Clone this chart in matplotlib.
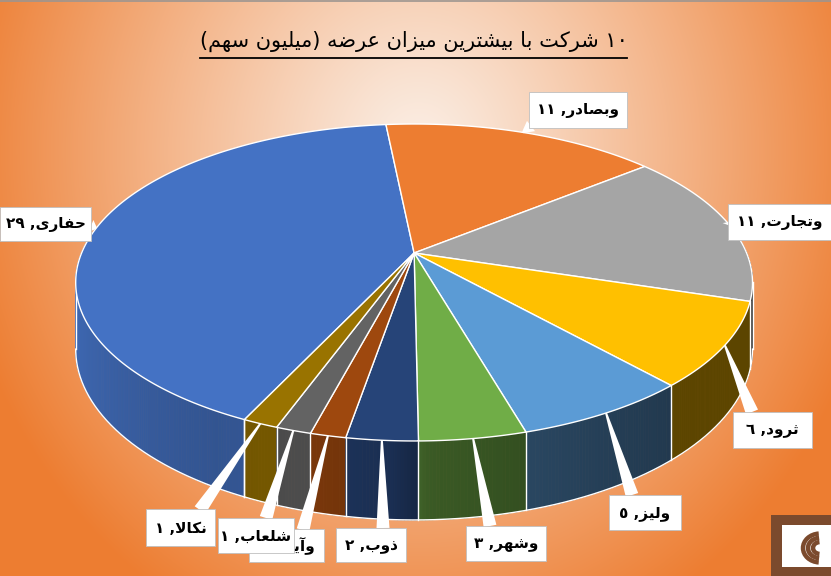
import re
import numpy as np
import matplotlib
matplotlib.use('Agg')
import matplotlib.pyplot as plt
from matplotlib.patches import Polygon, Rectangle, Arc
from matplotlib.collections import PolyCollection
from matplotlib.colors import to_rgb

# ---------------- data ----------------
companies = ['حفاری', 'وبصادر', 'وتجارت', 'ثرود', 'ولیز', 'وشهر', 'ذوب', 'وآیند', 'شلعاب', 'نکالا']
values = [29, 11, 11, 6, 5, 3, 2, 1, 1, 1]
colors = ['#4472C4', '#ED7D31', '#A5A5A5', '#FFC000', '#5B9BD5',
          '#70AD47', '#264478', '#9E480E', '#636363', '#997300']
title = '١٠ شرکت با بیشترین میزان عرضه (میلیون سهم)'

# label box layout (x0, y0, x1, y1) and pointer base point, in pixels
box_pos = [(0, 207, 91, 241), (529, 92, 627, 128), (728, 204, 831, 240),
           (733, 412, 812, 448), (609, 495, 681, 530), (466, 526, 546, 561),
           (336, 528, 406, 562), (249, 529, 324, 562), (218, 518, 294, 553),
           (146, 509, 215, 546)]
ptr_base = [(91, 226), (531, 126), (729, 222), (752, 412), (632, 495), (490, 526),
            (383, 528), (303, 530), (266, 518), (200, 510)]

# ---------------- Arabic shaping (presentation forms) ----------------
FORMS = {
    'ا': (0xFE8D, 0xFE8E, None, None), 'آ': (0xFE81, 0xFE82, None, None),
    'ب': (0xFE8F, 0xFE90, 0xFE91, 0xFE92), 'ت': (0xFE95, 0xFE96, 0xFE97, 0xFE98),
    'ث': (0xFE99, 0xFE9A, 0xFE9B, 0xFE9C), 'ج': (0xFE9D, 0xFE9E, 0xFE9F, 0xFEA0),
    'ح': (0xFEA1, 0xFEA2, 0xFEA3, 0xFEA4), 'د': (0xFEA9, 0xFEAA, None, None),
    'ذ': (0xFEAB, 0xFEAC, None, None), 'ر': (0xFEAD, 0xFEAE, None, None),
    'ز': (0xFEAF, 0xFEB0, None, None), 'س': (0xFEB1, 0xFEB2, 0xFEB3, 0xFEB4),
    'ش': (0xFEB5, 0xFEB6, 0xFEB7, 0xFEB8), 'ص': (0xFEB9, 0xFEBA, 0xFEBB, 0xFEBC),
    'ض': (0xFEBD, 0xFEBE, 0xFEBF, 0xFEC0), 'ع': (0xFEC9, 0xFECA, 0xFECB, 0xFECC),
    'ف': (0xFED1, 0xFED2, 0xFED3, 0xFED4), 'ل': (0xFEDD, 0xFEDE, 0xFEDF, 0xFEE0),
    'م': (0xFEE1, 0xFEE2, 0xFEE3, 0xFEE4), 'ن': (0xFEE5, 0xFEE6, 0xFEE7, 0xFEE8),
    'ه': (0xFEE9, 0xFEEA, 0xFEEB, 0xFEEC), 'و': (0xFEED, 0xFEEE, None, None),
    'ی': (0xFBFC, 0xFBFD, 0xFBFE, 0xFBFF), 'ک': (0xFB8E, 0xFB8F, 0xFB90, 0xFB91),
}
LAMALEF = {'ا': (0xFEFB, 0xFEFC), 'آ': (0xFEF5, 0xFEF6)}


def dual(ch):
    return ch in FORMS and FORMS[ch][2] is not None


def shape(text):
    out, i, n = [], 0, len(text)
    while i < n:
        ch = text[i]
        if ch not in FORMS:
            out.append(ch)
            i += 1
            continue
        prev_j = i > 0 and dual(text[i - 1])
        if ch == 'ل' and i + 1 < n and text[i + 1] in LAMALEF:
            out.append(chr(LAMALEF[text[i + 1]][1 if prev_j else 0]))
            i += 2
            continue
        next_j = dual(ch) and i + 1 < n and text[i + 1] in FORMS
        f = FORMS[ch]
        if prev_j and next_j:
            out.append(chr(f[3]))
        elif prev_j:
            out.append(chr(f[1]))
        elif next_j:
            out.append(chr(f[2]))
        else:
            out.append(chr(f[0]))
        i += 1
    return ''.join(out)


def visual(text):
    rev = shape(text)[::-1]
    rev = re.sub(r'[0-9\u0660-\u0669\u06F0-\u06F9]+', lambda m: m.group(0)[::-1], rev)
    return rev.translate(str.maketrans('()', ')('))


def to_ar_digits(v):
    return str(v).translate(str.maketrans('0123456789', '٠١٢٣٤٥٦٧٨٩'))


# ---------------- geometry ----------------
W, Hh = 831, 576
CX, CY, QX, PY, K, DEPTH = 414.1, 253.0, 332.5, 153.0, 0.186, 64.3
START = 205.1


def proj(a_deg, drop=0.0):
    a = np.radians(a_deg)
    c, s = np.cos(a), np.sin(a)
    d = 1 + K * c
    return CX + QX * s / d, CY + (-PY * c + drop) / d


fig = plt.figure(figsize=(W / 100, Hh / 100), dpi=100)
ax = fig.add_axes([0, 0, 1, 1])
ax.set_xlim(0, W)
ax.set_ylim(Hh, 0)
ax.axis('off')

# background radial gradient
yy, xx = np.mgrid[0:Hh, 0:W]
r = np.sqrt(((xx - 418) / 470.0) ** 2 + ((yy - 150) / 530.0) ** 2)
t = np.clip(r, 0, 1) ** 1.1
inner = np.array([251, 239, 230]) / 255
outer = np.array([237, 125, 49]) / 255
bg = inner[None, None, :] * (1 - t[..., None]) + outer[None, None, :] * t[..., None]
ax.imshow(bg, extent=(0, W, Hh, 0), origin='upper', zorder=0, interpolation='bilinear')
ax.plot([0, W], [0.5, 0.5], color='#9C9590', lw=1.2, zorder=1)

total = float(sum(values))
bounds = [START]
for v in values:
    bounds.append(bounds[-1] + 360.0 * v / total)


def shade(a):
    a = a % 360
    return np.interp(a, [90, 135, 150, 165, 178, 183, 195, 210, 240, 270],
                     [0.36, 0.36, 0.40, 0.46, 0.52, 0.68, 0.77, 0.74, 0.86, 0.95])


# side walls
quads, qcols, depths = [], [], []
for i, v in enumerate(values):
    a0, a1 = bounds[i], bounds[i + 1]
    n = max(2, int(np.ceil((a1 - a0) / 0.5)))
    ts = np.linspace(a0, a1, n + 1)
    base = np.array(to_rgb(colors[i]))
    for t0, t1 in zip(ts[:-1], ts[1:]):
        m = 0.5 * (t0 + t1)
        if -np.cos(np.radians(m)) < -0.2:
            continue
        p0, p1 = proj(t0), proj(t1)
        q0, q1 = proj(t0, DEPTH), proj(t1, DEPTH)
        quads.append([p0, p1, q1, q0])
        qcols.append(tuple(base * shade(m)))
        depths.append(-np.cos(np.radians(m)))
order = np.argsort(depths)
pc = PolyCollection([quads[j] for j in order], facecolors=[qcols[j] for j in order],
                    edgecolors=[qcols[j] for j in order], linewidths=0.6, zorder=2)
ax.add_collection(pc)

# wall outlines
ext = np.degrees(np.arccos(-K))
for b in bounds:
    if -np.cos(np.radians(b)) > 0.19:
        x0, y0 = proj(b)
        x1, y1 = proj(b, DEPTH)
        ax.plot([x0, x1], [y0, y1], color='white', lw=1.0, zorder=3)
arc = np.linspace(ext, 360 - ext, 300)
bx, by = proj(arc, DEPTH)
ax.plot(bx, by, color='white', lw=1.0, zorder=3)
for e in (ext, 360 - ext):
    x0, y0 = proj(e)
    x1, y1 = proj(e, DEPTH)
    ax.plot([x0, x1], [y0, y1], color='white', lw=1.0, zorder=3)

# top faces
for i, v in enumerate(values):
    a = np.linspace(bounds[i], bounds[i + 1], 200)
    px, py = proj(a)
    pts = np.column_stack([np.r_[CX, px], np.r_[CY, py]])
    ax.add_patch(Polygon(pts, closed=True, facecolor=colors[i], edgecolor='white',
                         lw=1.0, joinstyle='round', zorder=4))

# data labels with callout pointers
for i, name in enumerate(companies):
    mid = 0.5 * (bounds[i] + bounds[i + 1])
    tx, ty = proj(mid)
    bxp, byp = ptr_base[i]
    dx, dy = bxp - tx, byp - ty
    L = np.hypot(dx, dy)
    if L > 3:
        nx, ny = -dy / L, dx / L
        tri = [(tx + nx * 1.0, ty + ny * 1.0), (bxp + nx * 6.5, byp + ny * 6.5),
               (bxp - nx * 6.5, byp - ny * 6.5), (tx - nx * 1.0, ty - ny * 1.0)]
        ax.add_patch(Polygon(tri, closed=True, facecolor='white', edgecolor='none',
                             zorder=5 + 2 * i))
    x0, y0, x1, y1 = box_pos[i]
    rect = Rectangle((x0, y0), x1 - x0, y1 - y0, facecolor='white',
                     edgecolor='#BFBFBF', lw=0.6, zorder=6 + 2 * i)
    ax.add_patch(rect)
    label = visual(f'{name}, {to_ar_digits(values[i])}')
    ax.text((x0 + x1) / 2, (y0 + y1) / 2 + 1, label, ha='center', va='center',
            fontsize=11, fontweight='bold', family=['DejaVu Sans'], color='black',
            zorder=6 + 2 * i + 0.5, clip_on=False)

# title
ax.text(414, 41, visual(title), ha='center', va='center', fontsize=15,
        family=['DejaVu Sans'], color='black', zorder=30)
ax.plot([200, 627], [57.5, 57.5], color='black', lw=1.3, zorder=30)

# logo (bottom-right)
ax.add_patch(Rectangle((771, 515), 60, 61, facecolor='#7B4A2D', edgecolor='none', zorder=30))
ax.add_patch(Rectangle((782, 525), 49, 42, facecolor='white', edgecolor='none', zorder=31))
for rr in (7, 12, 17):
    ax.add_patch(Arc((820, 548), 2 * rr, 1.7 * rr, theta1=95, theta2=265,
                     color='#7B4A2D', lw=3.2, zorder=32))

fig.savefig('out.png', dpi=100)
